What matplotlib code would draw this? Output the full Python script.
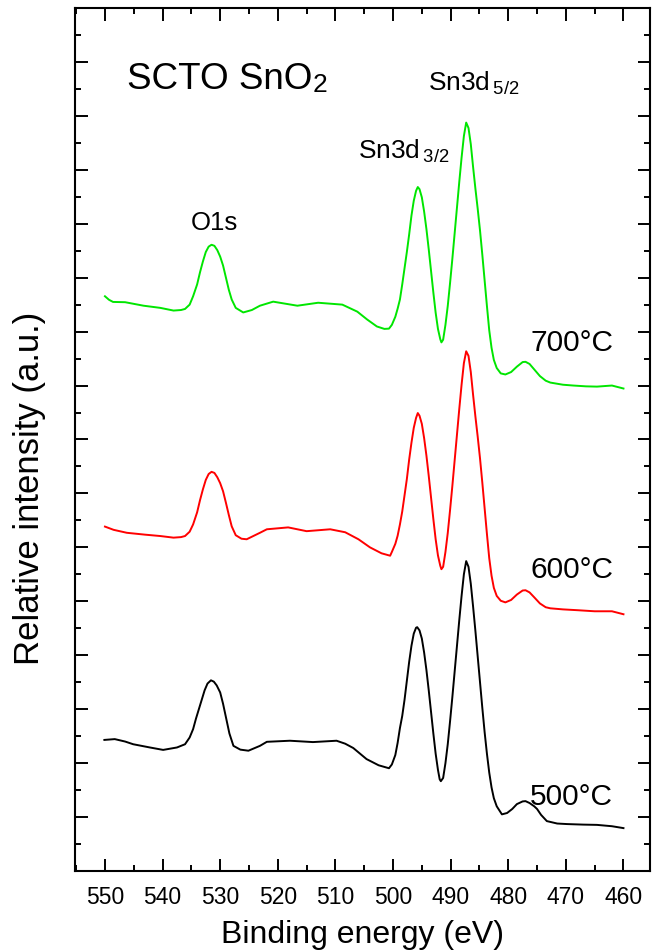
import matplotlib.pyplot as plt
from matplotlib.ticker import MultipleLocator

plt.rcParams['font.family'] = ['Liberation Sans', 'DejaVu Sans']
plt.rcParams['mathtext.fontset'] = 'custom'
plt.rcParams['mathtext.rm'] = 'Liberation Sans'
plt.rcParams['mathtext.default'] = 'regular'

# binding energy (eV) and relative intensity (offset, a.u.)
e_700 = [550.0, 549.3, 548.6, 546.5, 543.3, 540.4, 538.1, 536.8, 536.1, 535.3,
         534.7, 534.0, 533.5, 533.0, 532.5, 532.0, 531.5, 531.0, 530.5, 530.0,
         529.5, 529.0, 528.5, 528.0, 527.3, 526.0, 524.5, 523.1, 520.8, 516.6,
         513.0, 508.8, 506.2, 504.5, 502.8, 501.5, 500.7, 500.2, 499.6, 499.2,
         498.8, 498.4, 498.0, 497.6, 497.2, 496.8, 496.4, 496.0, 495.7, 495.4,
         495.0, 494.6, 494.2, 493.8, 493.4, 493.0, 492.6, 492.2, 491.8, 491.6,
         491.3, 490.9, 490.5, 490.1, 489.7, 489.3, 488.9, 488.5, 488.1, 487.7,
         487.3, 486.9, 486.5, 486.1, 485.7, 485.3, 484.9, 484.5, 484.1, 483.7,
         483.3, 482.9, 482.5, 482.0, 481.3, 480.5, 479.5, 478.5, 477.5, 477.0,
         476.3, 475.5, 474.5, 473.5, 472.7, 470.5, 468.7, 466.5, 464.6, 462.0,
         460.0]
i_700 = [21.31, 21.18, 21.10, 21.09, 20.96, 20.88, 20.78, 20.80, 20.84, 21.00,
         21.31, 21.75, 22.20, 22.60, 22.95, 23.15, 23.22, 23.18, 23.02, 22.78,
         22.45, 22.00, 21.55, 21.19, 20.88, 20.71, 20.80, 20.96, 21.11, 20.96,
         21.07, 21.00, 20.74, 20.45, 20.19, 20.10, 20.11, 20.25, 20.55, 20.85,
         21.19, 21.75, 22.35, 22.95, 23.60, 24.30, 24.85, 25.22, 25.36, 25.28,
         24.98, 24.45, 23.80, 23.05, 22.25, 21.45, 20.70, 20.10, 19.72, 19.60,
         19.70, 20.25, 20.95, 21.80, 22.70, 23.65, 24.60, 25.55, 26.45, 27.25,
         27.75, 27.55, 26.95, 26.10, 25.30, 24.55, 23.75, 22.85, 21.90, 20.95,
         20.05, 19.40, 18.95, 18.65, 18.45, 18.41, 18.50, 18.70, 18.87, 18.88,
         18.80, 18.60, 18.35, 18.18, 18.11, 18.03, 18.00, 17.97, 17.96, 18.00,
         17.89]

e_600 = [550.0, 548.5, 546.2, 543.0, 540.4, 538.1, 536.8, 536.1, 535.3, 534.7,
         534.0, 533.5, 533.0, 532.5, 532.0, 531.5, 531.0, 530.5, 530.0, 529.5,
         529.0, 528.5, 528.0, 527.3, 526.3, 525.4, 523.1, 521.9, 518.2, 515.0,
         510.9, 508.3, 506.0, 504.0, 502.0, 500.5, 500.2, 499.6, 499.2, 498.8,
         498.4, 498.0, 497.6, 497.2, 496.8, 496.4, 496.0, 495.7, 495.4, 495.0,
         494.6, 494.2, 493.8, 493.4, 493.0, 492.6, 492.2, 491.8, 491.6, 491.3,
         490.9, 490.5, 490.1, 489.7, 489.3, 488.9, 488.5, 488.1, 487.7, 487.3,
         486.9, 486.5, 486.1, 485.7, 485.3, 484.9, 484.5, 484.1, 483.7, 483.3,
         482.9, 482.5, 482.0, 481.3, 480.5, 479.5, 478.5, 477.5, 477.0, 476.3,
         475.5, 474.5, 473.5, 472.7, 470.5, 468.0, 465.0, 462.0, 460.0]
i_600 = [12.77, 12.65, 12.54, 12.47, 12.42, 12.36, 12.38, 12.42, 12.58, 12.85,
         13.30, 13.75, 14.15, 14.50, 14.72, 14.80, 14.76, 14.60, 14.38, 14.08,
         13.65, 13.20, 12.78, 12.45, 12.32, 12.30, 12.54, 12.67, 12.74, 12.60,
         12.67, 12.56, 12.30, 12.00, 11.78, 11.69, 11.83, 12.13, 12.43, 12.85,
         13.33, 13.93, 14.53, 15.25, 15.88, 16.43, 16.80, 16.98, 16.88, 16.58,
         16.05, 15.40, 14.65, 13.85, 13.05, 12.30, 11.70, 11.32, 11.19, 11.28,
         11.83, 12.53, 13.38, 14.28, 15.23, 16.18, 17.13, 18.03, 18.83, 19.27,
         19.10, 18.50, 17.65, 16.85, 16.10, 15.30, 14.40, 13.45, 12.50, 11.60,
         10.95, 10.50, 10.20, 10.02, 9.96, 10.05, 10.25, 10.40, 10.41, 10.33,
         10.15, 9.92, 9.78, 9.74, 9.70, 9.67, 9.63, 9.63, 9.52]

e_500 = [550.1, 548.3, 546.5, 545.1, 542.2, 539.9, 537.5, 536.1, 535.3, 534.7,
         534.2, 533.7, 533.2, 532.7, 532.2, 531.6, 531.1, 530.6, 530.0, 529.5,
         528.9, 528.4, 527.7, 526.5, 525.1, 523.1, 521.9, 517.9, 513.9, 509.8,
         508.3, 506.9, 504.6, 502.5, 500.7, 500.2, 499.6, 499.2, 498.8, 498.4,
         498.0, 497.6, 497.2, 496.8, 496.4, 496.0, 495.8, 495.4, 495.0, 494.6,
         494.2, 493.8, 493.4, 493.0, 492.6, 492.2, 491.9, 491.7, 491.3, 490.9,
         490.5, 490.1, 489.7, 489.3, 488.9, 488.5, 488.1, 487.7, 487.3, 486.9,
         486.5, 486.1, 485.7, 485.3, 484.9, 484.5, 484.1, 483.7, 483.3, 482.9,
         482.5, 482.0, 481.1, 480.2, 479.3, 478.5, 477.5, 477.0, 476.3, 475.5,
         475.0, 474.3, 473.3, 471.5, 469.8, 467.0, 464.6, 462.0, 460.0]
i_500 = [4.86, 4.89, 4.80, 4.70, 4.58, 4.49, 4.58, 4.70, 4.95, 5.26,
         5.65, 6.00, 6.35, 6.70, 6.95, 7.07, 7.02, 6.88, 6.62, 6.20,
         5.60, 5.10, 4.64, 4.50, 4.46, 4.64, 4.79, 4.83, 4.78, 4.83,
         4.72, 4.56, 4.15, 3.92, 3.81, 3.95, 4.30, 4.75, 5.30, 5.75,
         6.35, 7.05, 7.75, 8.35, 8.80, 9.02, 9.04, 8.92, 8.62, 8.10,
         7.45, 6.70, 5.90, 5.10, 4.35, 3.75, 3.40, 3.33, 3.45, 4.00,
         4.70, 5.55, 6.45, 7.40, 8.35, 9.30, 10.20, 11.00, 11.49, 11.28,
         10.65, 9.80, 8.90, 7.95, 7.00, 6.05, 5.15, 4.35, 3.65, 3.10,
         2.70, 2.40, 2.10, 2.15, 2.30, 2.48, 2.58, 2.59, 2.52, 2.40,
         2.30, 2.08, 1.85, 1.76, 1.74, 1.72, 1.71, 1.66, 1.59]

fig = plt.figure(figsize=(6.59, 9.53), dpi=100)
ax = fig.add_axes([0.1138, 0.085, 0.8725, 0.9056])

ax.plot(e_500, i_500, color='black', lw=1.4)
ax.plot(e_600, i_600, color='#ff0000', lw=1.4)
ax.plot(e_700, i_700, color='#00e600', lw=1.4)

ax.set_xlim(555.2, 455.4)
ax.set_ylim(0, 32)
ax.xaxis.set_major_locator(MultipleLocator(10))
ax.xaxis.set_minor_locator(MultipleLocator(5))
ax.yaxis.set_major_locator(MultipleLocator(2))
ax.yaxis.set_minor_locator(MultipleLocator(1))
ax.tick_params(which='both', direction='in', top=True, right=True, width=1.4)
ax.tick_params(which='major', length=9, labelsize=16.5, pad=10)
ax.tick_params(which='minor', length=4.5)
ax.tick_params(axis='y', labelleft=False)
for s in ax.spines.values():
    s.set_linewidth(1.5)

ax.set_xlabel('Binding energy (eV)', fontsize=23)
ax.xaxis.set_label_coords(0.5, -0.056)
ax.set_ylabel('Relative intensity (a.u.)', fontsize=25)
ax.yaxis.set_label_coords(-0.05, 0.445)

t = ax.text(546.2, 29.04, 'SCTO SnO', fontsize=26.5)
ax.annotate('2', xy=(1, 0), xycoords=t, fontsize=19, va='bottom')
ax.text(493.9, 28.96, r'Sn3d$_{\,5/2}$', fontsize=19)
ax.text(506.05, 26.44, r'Sn3d$_{\,3/2}$', fontsize=19)
ax.text(531.0, 23.8, 'O1s', fontsize=18.5, ha='center')
ax.text(476.2, 19.33, '700\u00b0C', fontsize=21.5)
ax.text(476.2, 10.9, '600\u00b0C', fontsize=21.5)
ax.text(476.2, 2.48, '500\u00b0C', fontsize=21.5)

plt.savefig('out.png')
